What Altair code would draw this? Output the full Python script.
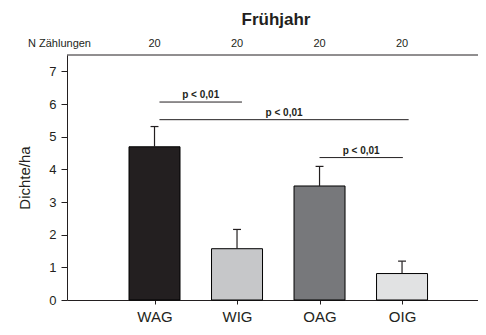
import altair as alt
import pandas as pd

categories = ["WAG", "WIG", "OAG", "OIG"]
positions = [1, 2, 3, 4]
means = [4.69, 1.57, 3.49, 0.81]
err_top = [5.31, 2.16, 4.09, 1.19]
colors = ["#231f20", "#c6c7c9", "#77787b", "#e1e2e3"]
n_counts = ["20", "20", "20", "20"]

sig_x1 = [1.06, 1.06, 3.0]
sig_x2 = [2.06, 4.08, 4.01]
sig_y = [6.06, 5.52, 4.36]
sig_label = ["p < 0,01", "p < 0,01", "p < 0,01"]

W, H = 411, 245
XMAX = 4.86
CAP = 0.048

bars = pd.DataFrame({"cat": categories, "pos": positions, "mean": means,
                     "err": err_top, "color": colors, "n": n_counts})
bars["c1"] = bars["pos"] - CAP
bars["c2"] = bars["pos"] + CAP
sig = pd.DataFrame({"x1": sig_x1, "x2": sig_x2, "y": sig_y, "label": sig_label})
sig["xm"] = (sig["x1"] + sig["x2"]) / 2

xscale = alt.Scale(domain=[0, XMAX], nice=False, zero=False)
yscale = alt.Scale(domain=[0, 7.5], nice=False)

label_expr = "datum.value == 1 ? 'WAG' : datum.value == 2 ? 'WIG' : datum.value == 3 ? 'OAG' : 'OIG'"

xaxis = alt.Axis(
    values=positions, labelExpr=label_expr, title=None, grid=False,
    domainColor="#231f20", tickColor="#231f20", tickSize=4,
    labelFont="Liberation Sans", labelFontSize=15, labelColor="#231f20",
    labelPadding=5, labelOverlap=False)
yaxis = alt.Axis(
    values=[0, 1, 2, 3, 4, 5, 6, 7], title="Dichte/ha", grid=False,
    domainColor="#231f20", tickColor="#231f20", tickSize=6,
    labelFont="Liberation Sans", labelFontSize=13, labelColor="#231f20",
    labelPadding=5, labelOverlap=False, labelFlush=False,
    titleFont="Liberation Sans", titleFontSize=15,
    titleFontWeight="normal", titleColor="#231f20", titlePadding=16)

base = alt.Chart(bars)

bar_layer = base.mark_bar(size=51, stroke="#000000", strokeWidth=1).encode(
    x=alt.X("pos:Q", scale=xscale, axis=xaxis),
    y=alt.Y("mean:Q", scale=yscale, axis=yaxis),
    color=alt.Color("color:N", scale=None),
)

err_rule = base.mark_rule(color="#231f20", strokeWidth=1.2).encode(
    x=alt.X("pos:Q", axis=xaxis), y=alt.Y("mean:Q", axis=yaxis), y2="err:Q")
err_cap = base.mark_rule(color="#231f20", strokeWidth=1.2).encode(
    x=alt.X("c1:Q", axis=xaxis), x2="c2:Q", y=alt.Y("err:Q", axis=yaxis))

n_text = base.mark_text(font="Liberation Sans", fontSize=11, color="#231f20",
                        baseline="middle").encode(
    x=alt.X("pos:Q", axis=xaxis), y=alt.value(-11), text="n:N")

n_label = alt.Chart(pd.DataFrame({"t": ["N Zählungen"]})).mark_text(
    font="Liberation Sans", fontSize=11, color="#231f20", align="left",
    baseline="middle").encode(x=alt.value(-39), y=alt.value(-11), text="t:N")

title = alt.Chart(pd.DataFrame({"t": ["Frühjahr"]})).mark_text(
    font="Liberation Sans", fontSize=17, fontWeight="bold", color="#231f20",
    baseline="middle").encode(x=alt.value(209), y=alt.value(-35), text="t:N")

top_line = alt.Chart(pd.DataFrame({"y": [7.5]})).mark_rule(
    color="#231f20", strokeWidth=1).encode(
    y=alt.Y("y:Q", scale=yscale, axis=yaxis), x=alt.value(0), x2=alt.value(W))

sig_rule = alt.Chart(sig).mark_rule(color="#231f20", strokeWidth=1).encode(
    x=alt.X("x1:Q", scale=xscale, axis=xaxis), x2="x2:Q",
    y=alt.Y("y:Q", scale=yscale, axis=yaxis))
sig_text = alt.Chart(sig).mark_text(
    font="Liberation Sans", fontSize=10, fontWeight="bold", color="#231f20",
    baseline="bottom", dy=-2).encode(
    x=alt.X("xm:Q", scale=xscale, axis=xaxis),
    y=alt.Y("y:Q", scale=yscale, axis=yaxis), text="label:N")

chart = alt.layer(bar_layer, top_line, err_rule, err_cap, sig_rule, sig_text,
                  n_text, n_label, title).properties(
    width=W, height=H,
    autosize=alt.AutoSizeParams(type="none"),
    padding={"left": 59, "top": 47, "right": 0, "bottom": 24},
).configure_view(stroke=None).configure_axis(domainWidth=1)

chart.save("out.html", embed_options={"renderer": "svg", "actions": False})
